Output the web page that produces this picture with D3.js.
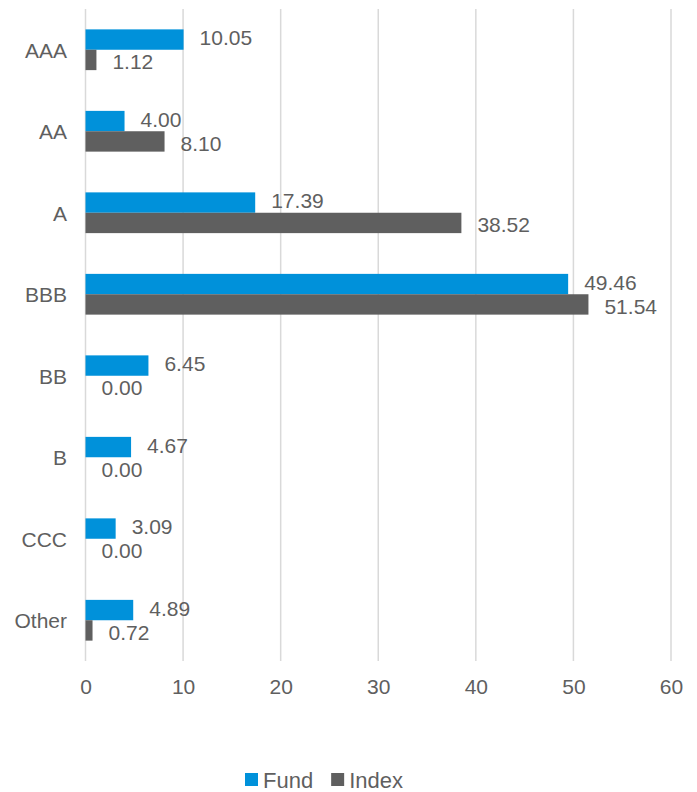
<!DOCTYPE html>
<html lang="en">

<head>
    <meta charset="UTF-8" />
    <title>Credit Quality: Fund vs Index</title>
    <script src="https://d3js.org/d3.v7.min.js"></script>
    <style>
        body {
            margin: 0;
            background: #fff;
            font-family: "Liberation Sans", Arial, sans-serif;
        }

        .axis text {
            fill: #5f5f5f;
            font-size: 21px;
            font-family: "Liberation Sans", Arial, sans-serif;
        }
    </style>
</head>

<body>

    <div id="chart"></div>

    <script>
        // data
        const ratings = ["AAA", "AA", "A", "BBB", "BB", "B", "CCC", "Other"];
        const series = ["Fund", "Index"];
        const fund = [10.05, 4.00, 17.39, 49.46, 6.45, 4.67, 3.09, 4.89];
        const index = [1.12, 8.10, 38.52, 51.54, 0.00, 0.00, 0.00, 0.72];
        const xTicks = [0, 10, 20, 30, 40, 50, 60];

        const W = 697, H = 792;
        const margin = { top: 9, right: 26, bottom: 131, left: 85.5 };
        const width = W - margin.left - margin.right,
            height = H - margin.top - margin.bottom;

        const color = d3.scaleOrdinal()
            .domain(series)
            .range(["#0091da", "#5f5f5f"]);

        const rows = ratings.map((r, i) => ({ rating: r, Fund: fund[i], Index: index[i] }));

        const svg = d3.select("#chart")
            .append("svg")
            .attr("width", W)
            .attr("height", H);

        const g = svg.append("g")
            .attr("transform", `translate(${margin.left},${margin.top})`);

        const x = d3.scaleLinear()
            .domain([0, 60])
            .range([0, width]);

        const y0 = d3.scaleBand()
            .domain(ratings)
            .range([0, height])
            .paddingInner(0.5)
            .paddingOuter(0.25);

        const y1 = d3.scaleBand()
            .domain(series)
            .range([0, y0.bandwidth()]);

        // grid
        g.append("g")
            .selectAll("line")
            .data(xTicks)
            .join("line")
            .attr("x1", d => x(d)).attr("x2", d => x(d))
            .attr("y1", 0).attr("y2", height)
            .attr("stroke", "#d9d9d9")
            .attr("stroke-width", 1.5);

        // x axis
        const xAxis = g.append("g")
            .attr("class", "axis")
            .attr("transform", `translate(0,${height})`)
            .call(d3.axisBottom(x).tickValues(xTicks).tickSize(0).tickPadding(18));
        xAxis.select(".domain").remove();

        // y axis
        const yAxis = g.append("g")
            .attr("class", "axis")
            .call(d3.axisLeft(y0).tickSize(0).tickPadding(18.5));
        yAxis.select(".domain").remove();
        yAxis.selectAll("text").attr("dy", "0.37em");

        // bars
        const groups = g.selectAll("g.rating")
            .data(rows)
            .join("g")
            .attr("class", "rating")
            .attr("transform", d => `translate(0,${y0(d.rating)})`);

        const cells = groups.selectAll("g.bar")
            .data(d => series.map(s => ({ key: s, value: d[s] })))
            .join("g")
            .attr("class", "bar");

        cells.append("rect")
            .attr("x", 0)
            .attr("y", d => y1(d.key))
            .attr("width", d => x(d.value))
            .attr("height", y1.bandwidth())
            .attr("fill", d => color(d.key));

        cells.append("text")
            .attr("x", d => x(d.value) + 16)
            .attr("y", d => y1(d.key) + y1.bandwidth() / 2 + (d.key === "Fund" ? -2 : 2))
            .attr("dy", "0.36em")
            .attr("fill", "#5f5f5f")
            .style("font-size", "21px")
            .text(d => d.value.toFixed(2));

        // legend
        const legend = svg.append("g")
            .attr("transform", `translate(245, 773)`);

        let off = 0;
        series.forEach(s => {
            const item = legend.append("g").attr("transform", `translate(${off},0)`);
            item.append("rect")
                .attr("width", 13).attr("height", 13)
                .attr("fill", color(s));
            const t = item.append("text")
                .attr("x", 18).attr("y", 15)
                .attr("fill", "#5f5f5f")
                .style("font-size", "22px")
                .text(s);
            off += 18 + t.node().getComputedTextLength() + 18;
        });
    </script>

</body>

</html>
